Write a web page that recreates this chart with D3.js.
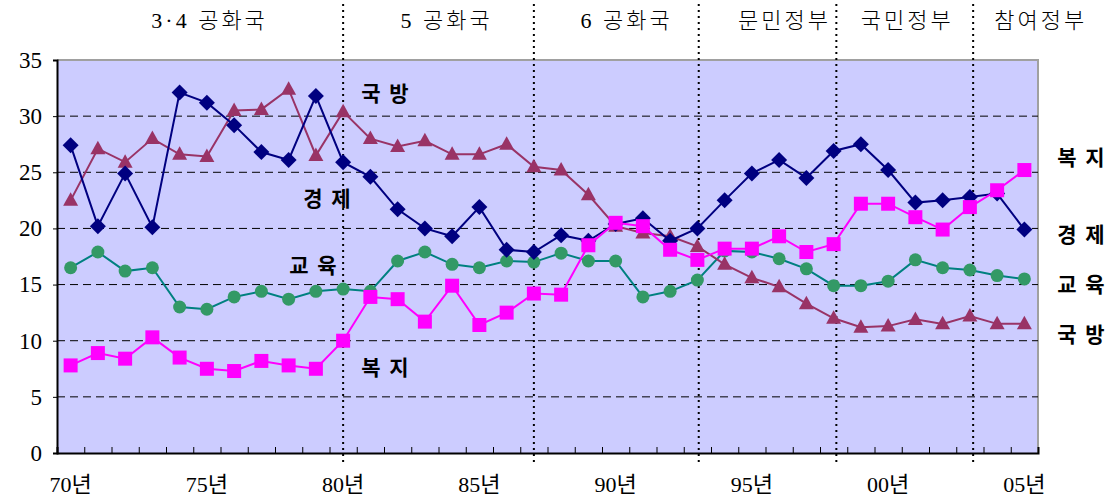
<!DOCTYPE html>
<html>
<head>
<meta charset="utf-8">
<script src="https://cdn.jsdelivr.net/npm/d3@7"></script>
<style>
  body { margin: 0; background: #fff; }
  svg { display: block; }
</style>
</head>
<body>
<div id="chart"></div>
<script>
// years and spending shares (%)
const years = d3.range(1970, 2006);
const economy = [27.4, 20.2, 24.9, 20.1, 32.1, 31.2, 29.2, 26.8, 26.1, 31.8,
    25.9, 24.6, 21.7, 20.0, 19.3, 21.9, 18.1, 17.9, 19.4, 18.9,
    20.4, 20.9, 18.9, 20.0, 22.5, 24.9, 26.1, 24.5, 26.9, 27.5,
    25.2, 22.3, 22.5, 22.8, 23.1, 19.9];
const defense = [22.5, 27.1, 25.9, 28.0, 26.6, 26.4, 30.5, 30.6, 32.4, 26.5,
    30.4, 28.0, 27.3, 27.8, 26.6, 26.6, 27.5, 25.5, 25.2, 23.0,
    20.2, 19.6, 19.3, 18.4, 16.8, 15.6, 14.8, 13.3, 12.0, 11.2,
    11.3, 11.9, 11.5, 12.2, 11.5, 11.5];
const education = [16.5, 17.9, 16.2, 16.5, 13.0, 12.8, 13.9, 14.4, 13.7, 14.4,
    14.6, 14.4, 17.1, 17.9, 16.8, 16.5, 17.1, 17.0, 17.8, 17.1,
    17.1, 13.9, 14.4, 15.4, 18.0, 17.9, 17.3, 16.4, 14.9, 14.9,
    15.3, 17.2, 16.5, 16.3, 15.8, 15.5];
const welfare = [7.8, 8.9, 8.4, 10.3, 8.5, 7.5, 7.3, 8.2, 7.8, 7.5,
    10.0, 13.9, 13.7, 11.7, 14.9, 11.4, 12.5, 14.2, 14.1, 18.5,
    20.5, 20.2, 18.1, 17.2, 18.2, 18.2, 19.3, 17.9, 18.6, 22.2,
    22.2, 21.0, 19.9, 21.9, 23.4, 25.2];

const xLabelYears = [1970, 1975, 1980, 1985, 1990, 1995, 2000, 2005];
const yTicks = [0, 5, 10, 15, 20, 25, 30, 35];

// government periods: dividing years and header names
const periodBreaks = [1980, 1987, 1993.05, 1998.1, 2003.12];
const periodNames = ["3·4 공화국", "5 공화국", "6 공화국", "문민정부", "국민정부", "참여정부"];
const periodCenters = [1975.1, 1983.8, 1990.4, 1996.2, 2000.7, 2005.6];

const W = 1110, H = 499;
const plotL = 57, plotR = 1038, plotT = 60, plotB = 453;

const svg = d3.select("#chart").append("svg")
    .attr("width", W)
    .attr("height", H);

const x = d3.scaleLinear().domain([1969.5, 2005.5]).range([plotL, plotR]);
const y = d3.scaleLinear().domain([0, 35]).range([plotB, plotT]);

// plot background
svg.append("rect")
    .attr("x", plotL).attr("y", plotT)
    .attr("width", plotR - plotL).attr("height", plotB - plotT)
    .attr("fill", "#ccccff");

// top and right frame in grey
svg.append("path")
    .attr("d", "M" + plotL + "," + plotT + "H" + plotR + "V" + plotB)
    .attr("fill", "none")
    .attr("stroke", "#a0a0a0")
    .attr("stroke-width", 2);

// dashed gridlines
svg.append("g")
    .selectAll("line")
    .data([5, 10, 15, 20, 25, 30])
    .enter()
    .append("line")
    .attr("x1", plotL).attr("x2", plotR)
    .attr("y1", function (d) { return y(d); })
    .attr("y2", function (d) { return y(d); })
    .attr("stroke", "#000")
    .attr("stroke-width", 1)
    .attr("stroke-dasharray", "8,5");

// y axis
const yAxis = svg.append("g")
    .attr("transform", "translate(" + plotL + ",0)")
    .call(d3.axisLeft(y).tickValues(yTicks).tickSize(4).tickPadding(11));
yAxis.select(".domain").attr("stroke", "#000").attr("stroke-width", 2);
yAxis.selectAll("text")
    .attr("font-family", "'Liberation Serif', serif")
    .attr("font-size", 23)
    .attr("fill", "#000");

// x axis: ticks on category boundaries, pointing up
const xAxis = svg.append("g")
    .attr("transform", "translate(0," + plotB + ")")
    .call(d3.axisBottom(x)
        .tickValues(d3.range(1969.5, 2006, 1))
        .tickSize(-6)
        .tickFormat(""));
xAxis.select(".domain").attr("stroke", "#000").attr("stroke-width", 2);

svg.append("g")
    .selectAll("text")
    .data(xLabelYears)
    .enter()
    .append("text")
    .attr("x", function (d) { return x(d); })
    .attr("y", 492)
    .attr("text-anchor", "middle")
    .attr("font-family", "'Liberation Serif', 'Noto Sans CJK KR', serif")
    .attr("font-size", 22)
    .text(function (d) { return String(d % 100).padStart(2, "0") + "년"; });

// period dividers
svg.append("g")
    .selectAll("line")
    .data(periodBreaks)
    .enter()
    .append("line")
    .attr("x1", function (d) { return x(d); })
    .attr("x2", function (d) { return x(d); })
    .attr("y1", 4).attr("y2", 463)
    .attr("stroke", "#000")
    .attr("stroke-width", 2)
    .attr("stroke-dasharray", "2,4");

svg.append("g")
    .selectAll("text")
    .data(periodNames)
    .enter()
    .append("text")
    .attr("x", function (d, i) { return x(periodCenters[i]); })
    .attr("y", 28)
    .attr("text-anchor", "middle")
    .attr("font-family", "'Liberation Serif', 'Noto Sans CJK KR', serif")
    .attr("font-weight", 300)
    .attr("font-size", 22)
    .attr("letter-spacing", 3)
    .text(function (d) { return d; });

// series
const series = [
    {name: "교육", values: education, line: "#008080", fill: "#339966", shape: "circle"},
    {name: "국방", values: defense, line: "#993366", fill: "#993366", shape: "triangle"},
    {name: "경제", values: economy, line: "#000080", fill: "#000080", shape: "diamond"},
    {name: "복지", values: welfare, line: "#ff00ff", fill: "#ff00ff", shape: "square"}
];

const symbolPath = {
    circle: "M-6.5,0A6.5,6.5 0 1,1 6.5,0A6.5,6.5 0 1,1 -6.5,0Z",
    triangle: "M0,-8L7.5,5.5L-7.5,5.5Z",
    diamond: "M0,-8L8,0L0,8L-8,0Z",
    square: "M-7,-7H7V7H-7Z"
};

const line = d3.line()
    .x(function (d, i) { return x(years[i]); })
    .y(function (d) { return y(d); });

series.forEach(function (s) {
    const g = svg.append("g");
    g.append("path")
        .attr("d", line(s.values))
        .attr("fill", "none")
        .attr("stroke", s.line)
        .attr("stroke-width", 2);
    g.selectAll("path.mark")
        .data(s.values)
        .enter()
        .append("path")
        .attr("class", "mark")
        .attr("transform", function (d, i) {
            return "translate(" + x(years[i]) + "," + y(d) + ")";
        })
        .attr("d", symbolPath[s.shape])
        .attr("fill", s.fill);
});

// series labels inside and on the right
const inLabels = [
    {text: "국 방", x: 385, y: 101},
    {text: "경 제", x: 327, y: 206},
    {text: "교 육", x: 313, y: 273},
    {text: "복 지", x: 385, y: 375},
    {text: "복 지", x: 1081, y: 165},
    {text: "경 제", x: 1081, y: 242},
    {text: "교 육", x: 1081, y: 292},
    {text: "국 방", x: 1081, y: 342}
];

svg.append("g")
    .selectAll("text")
    .data(inLabels)
    .enter()
    .append("text")
    .attr("x", function (d) { return d.x + 1; })
    .attr("y", function (d) { return d.y; })
    .attr("text-anchor", "middle")
    .attr("font-family", "'Noto Sans CJK KR', sans-serif")
    .attr("font-weight", "bold")
    .attr("font-size", 21)
    .attr("letter-spacing", 2)
    .text(function (d) { return d.text; });
</script>
</body>
</html>
